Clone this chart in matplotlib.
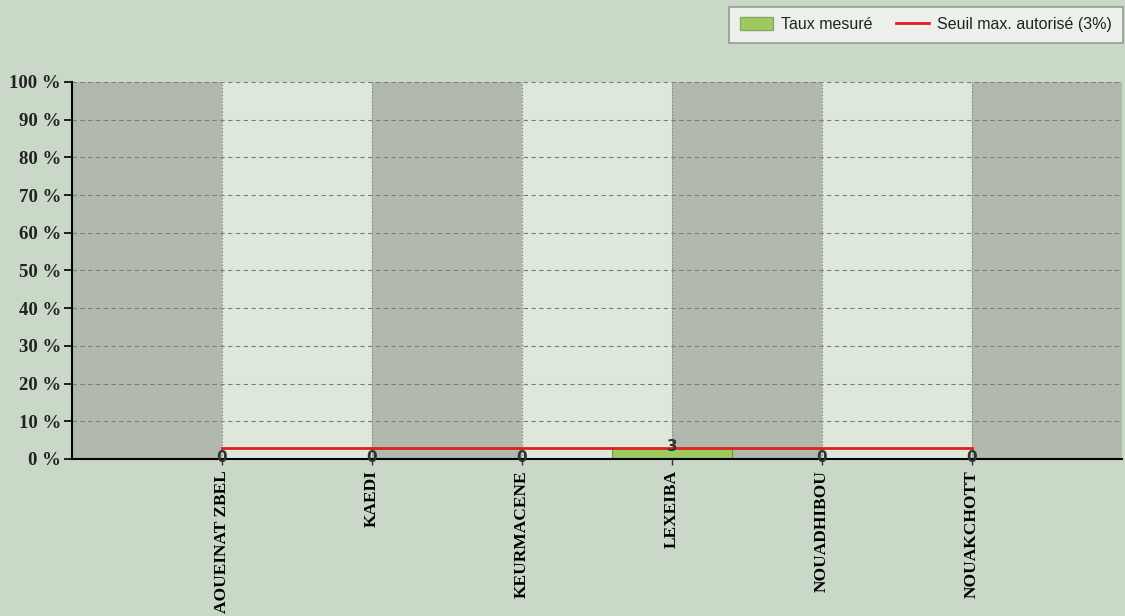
import numpy as np
import matplotlib.pyplot as plt
from matplotlib.patches import Patch
from matplotlib.lines import Line2D

## Donnees
villes = ['AOUEINAT ZBEL', 'KAEDI', 'KEURMACENE', 'LEXEIBA', 'NOUADHIBOU', 'NOUAKCHOTT']
taux = [0, 0, 0, 3, 0, 0]
seuil = [3, 3, 3, 3, 3, 3]
y_ticks = [0, 10, 20, 30, 40, 50, 60, 70, 80, 90, 100]

## Couleurs
fond = '#CAD8C8'
bande_fonce = '#B1B9AF'
bande_clair = '#DDE8DB'
vert = '#9DC95E'
rouge = '#E31E1E'

fig = plt.figure(figsize=(11.25, 6.16), dpi=100, facecolor=fond)
ax = fig.add_axes([0.064, 0.2549, 0.9333, 0.612])
ax.set_facecolor(fond)

x = np.arange(1, len(villes) + 1)

# bandes alternees
for i in range(len(villes) + 1):
    ax.axvspan(i, i + 1, color=bande_fonce if i % 2 == 0 else bande_clair, zorder=0, lw=0)

# grille
for yv in y_ticks[1:]:
    ax.axhline(yv, color='#7d7d7d', lw=0.8, ls=(0, (4, 3)), zorder=1)
for xv in x:
    ax.axvline(xv, color='#8a8a8a', lw=0.8, ls=(0, (1.5, 1.5)), zorder=1)

# barres
ax.bar(x, taux, width=0.8, color=vert, edgecolor='#6f9a3a', lw=0.8, zorder=2)
ax.plot(x, seuil, color=rouge, lw=2, zorder=3)

# etiquettes de valeur
for xi, v in zip(x, taux):
    ax.text(xi, v + 0.4, str(v), ha='center', va='center', fontsize=11,
            family='Liberation Sans Narrow', fontweight='bold', color='#333333', zorder=4)

ax.set_xlim(0, 7)
ax.set_ylim(0, 100)
ax.set_xticks(x)
ax.set_xticklabels(villes, rotation=90, va='top', ha='center',
                   family='Liberation Serif', fontweight='bold', fontsize=12.5)
ax.set_yticks(y_ticks)
ax.set_yticklabels([f'{v} %' for v in y_ticks], family='Liberation Serif',
                   fontweight='bold', fontsize=13.5, color='#222222')
ax.tick_params(axis='y', length=6, width=1.2, color='black', pad=2)
ax.tick_params(axis='x', length=4, width=1, color='#333333', pad=4)

for s in ['top', 'right']:
    ax.spines[s].set_visible(False)
ax.spines['left'].set_linewidth(1.5)
ax.spines['bottom'].set_linewidth(1.5)

handles = [Patch(facecolor=vert, edgecolor='#8aa86a', label='Taux mesuré'),
           Line2D([], [], color=rouge, lw=2, label='Seuil max. autorisé (3%)')]
leg = fig.legend(handles=handles, loc='upper right', bbox_to_anchor=(0.998, 0.989),
                 ncol=2, frameon=True, fancybox=False, shadow=False, borderaxespad=0,
                 prop={'family': 'Liberation Sans', 'size': 11.5},
                 handlelength=2.05, handleheight=0.8, handletextpad=0.55,
                 columnspacing=1.45, borderpad=0.65,
                 facecolor='#F4F7F4', edgecolor='#888888')
leg.get_frame().set_linewidth(1.2)
for t in leg.get_texts():
    t.set_color('#222222')

fig.savefig('out.png', dpi=100, facecolor=fond)
